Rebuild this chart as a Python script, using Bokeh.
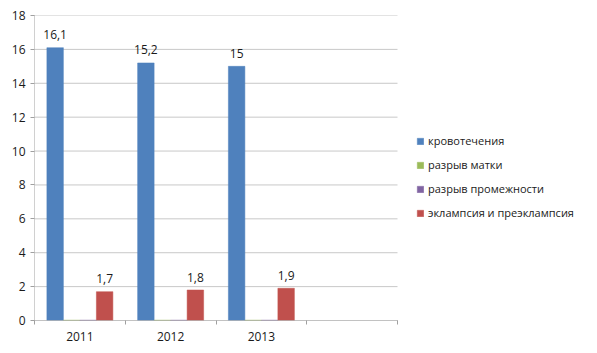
from bokeh.plotting import figure
from bokeh.models import Range1d, FixedTicker, Legend, LegendItem, ColumnDataSource
from bokeh.embed import file_html
from bokeh.resources import INLINE
from bokeh.core.properties import value

years = ["2011", "2012", "2013", ""]
series_names = ["кровотечения", "разрыв матки", "разрыв промежности", "эклампсия и преэклампсия"]
bleeding = [16.1, 15.2, 15.0]
uterus_rupture = [0.02, 0.02, 0.02]
perineum_rupture = [0.02, 0.02, 0.02]
eclampsia = [1.7, 1.8, 1.9]
labels_bleeding = ["16,1", "15,2", "15"]
labels_eclampsia = ["1,7", "1,8", "1,9"]
colors = ["#4F81BD", "#9BBB59", "#8064A2", "#C0504D"]
y_ticks = [0, 2, 4, 6, 8, 10, 12, 14, 16, 18]

FONT = "Open Sans"
ncat = len(years)
bw = 1 / 5.5

W, H = 597, 353
LEFT, TOP, BOTTOM = 34, 15, 33
AXIS_PX = 363  # pixel width of the category axis
frame_w = W - LEFT
x_end = ncat * frame_w / AXIS_PX

p = figure(width=W, height=H, output_backend="svg", toolbar_location=None,
           x_range=Range1d(0, x_end), y_range=Range1d(0, 18),
           min_border_left=LEFT, min_border_right=0, min_border_top=TOP, min_border_bottom=BOTTOM)
p.outline_line_color = None
p.background_fill_color = "white"
p.border_fill_color = "white"
p.xgrid.grid_line_color = None
p.ygrid.grid_line_color = None

# horizontal gridlines limited to the category area
p.segment(x0=[0] * len(y_ticks), x1=[ncat] * len(y_ticks), y0=y_ticks, y1=y_ticks,
          line_color="#c8c8c8", line_width=1)

all_series = [bleeding, uterus_rupture, perineum_rupture, eclampsia]
renderers = []
for k, vals in enumerate(all_series):
    xs = [i + 0.5 + (k - 1.5) * bw for i in range(len(vals))]
    src = ColumnDataSource(dict(x=xs, top=vals))
    r = p.vbar(x="x", top="top", width=bw, source=src, fill_color=colors[k],
               line_color=colors[k], line_width=0.5)
    renderers.append(r)

for k, vals, labs in [(0, bleeding, labels_bleeding), (3, eclampsia, labels_eclampsia)]:
    xs = [i + 0.5 + (k - 1.5) * bw for i in range(len(vals))]
    src = ColumnDataSource(dict(x=xs, y=vals, t=labs))
    p.text(x="x", y="y", text="t", source=src, text_align="center", text_baseline="middle",
           y_offset=-13, text_font=value(FONT), text_font_size="12px", text_color="#1a1a1a")

# y axis
p.yaxis.ticker = FixedTicker(ticks=y_ticks)
p.yaxis.axis_line_color = "#a0a0a0"
p.yaxis.axis_line_dash = "1 1"
p.yaxis.major_tick_line_color = "#a0a0a0"
p.yaxis.major_tick_out = 4
p.yaxis.major_tick_in = 0
p.yaxis.minor_tick_line_color = None
p.yaxis.major_label_text_font = FONT
p.yaxis.major_label_text_font_size = "12px"
p.yaxis.major_label_text_color = "#1a1a1a"
p.yaxis.major_label_standoff = 5

# x axis
p.xaxis.bounds = (0, ncat)
p.xaxis.ticker = FixedTicker(ticks=[i + 0.5 for i in range(ncat)], minor_ticks=list(range(ncat + 1)))
p.xaxis.major_label_overrides = {i + 0.5: y for i, y in enumerate(years)}
p.xaxis.axis_line_color = "#a0a0a0"
p.xaxis.axis_line_dash = "1 1"
p.xaxis.major_tick_line_color = None
p.xaxis.minor_tick_line_color = "#a0a0a0"
p.xaxis.minor_tick_out = 4
p.xaxis.minor_tick_in = 0
p.xaxis.major_label_text_font = FONT
p.xaxis.major_label_text_font_size = "12px"
p.xaxis.major_label_text_color = "#1a1a1a"
p.xaxis.major_label_standoff = 5

legend = Legend(items=[LegendItem(label=n, renderers=[r]) for n, r in zip(series_names, renderers)],
                location=(382, 100), orientation="vertical")
legend.glyph_width = 8
legend.glyph_height = 8
legend.label_text_font = FONT
legend.label_text_font_size = "11px"
legend.label_text_color = "#1a1a1a"
legend.label_standoff = 4
legend.spacing = 9
legend.padding = 0
legend.margin = 0
legend.border_line_color = None
legend.background_fill_alpha = 0
p.add_layout(legend)

open("out.html", "w").write(file_html(p, INLINE))
